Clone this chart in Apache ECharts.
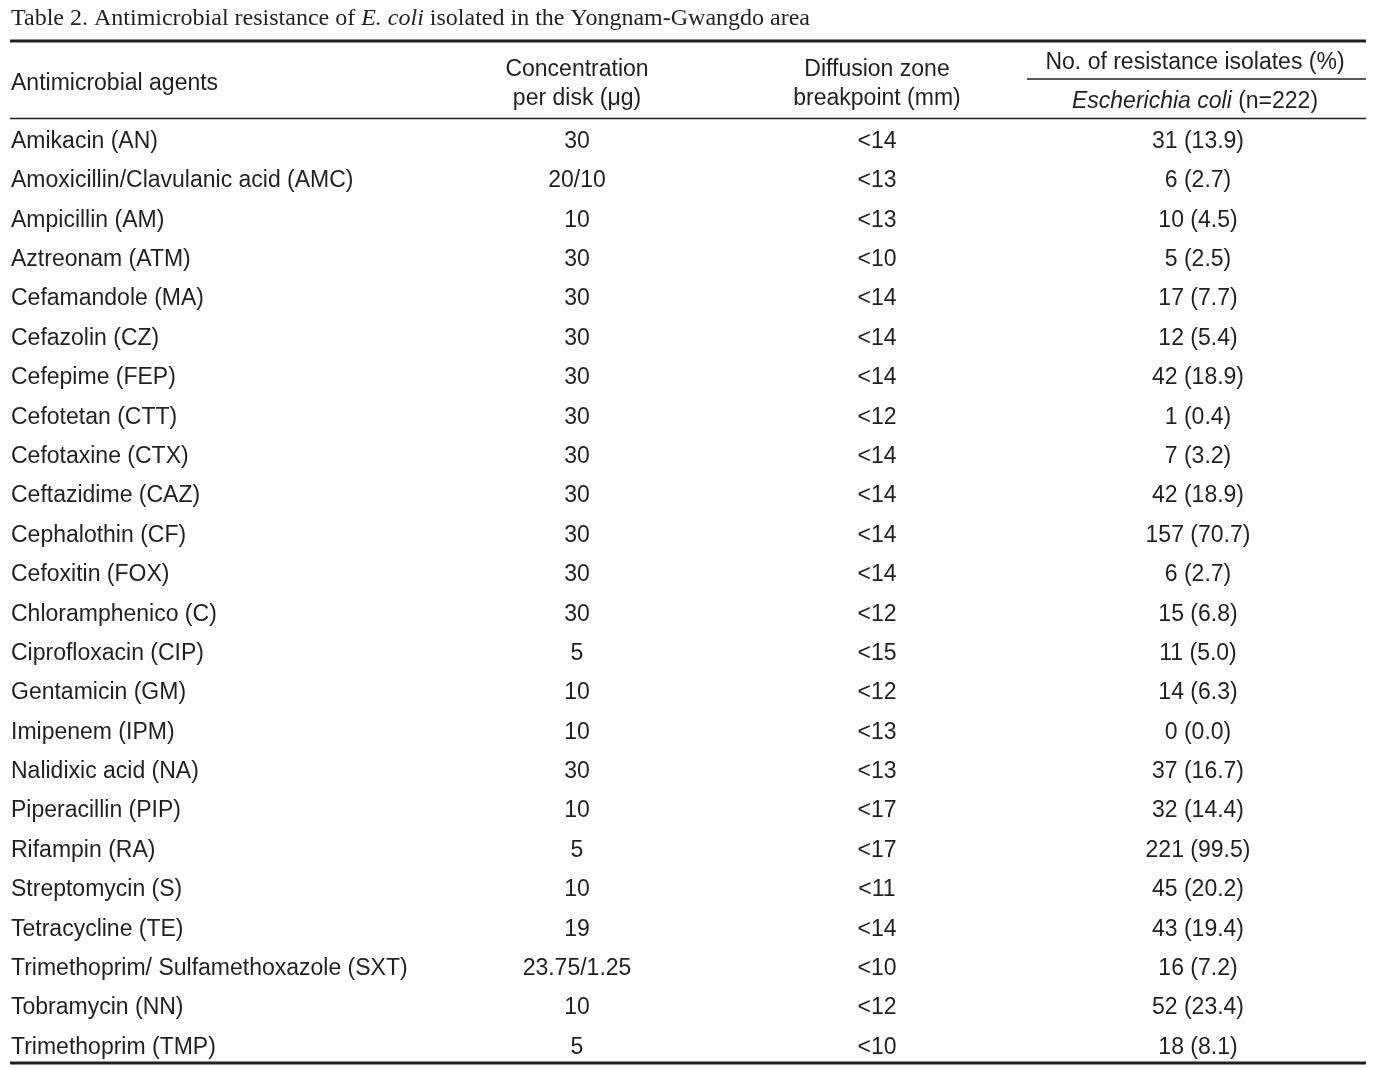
<!DOCTYPE html>
<html><head><meta charset="utf-8">
<script src="https://cdn.jsdelivr.net/npm/echarts@6/dist/echarts.min.js"></script>
<style>html,body{margin:0;padding:0;background:#fff}#c{width:1384px;height:1068px}</style>
</head><body><div id="c"></div>
<script>
const agents = ["Amikacin (AN)","Amoxicillin/Clavulanic acid (AMC)","Ampicillin (AM)","Aztreonam (ATM)","Cefamandole (MA)","Cefazolin (CZ)","Cefepime (FEP)","Cefotetan (CTT)","Cefotaxine (CTX)","Ceftazidime (CAZ)","Cephalothin (CF)","Cefoxitin (FOX)","Chloramphenico (C)","Ciprofloxacin (CIP)","Gentamicin (GM)","Imipenem (IPM)","Nalidixic acid (NA)","Piperacillin (PIP)","Rifampin (RA)","Streptomycin (S)","Tetracycline (TE)","Trimethoprim/ Sulfamethoxazole (SXT)","Tobramycin (NN)","Trimethoprim (TMP)"];
const concentration = ["30","20/10","10","30","30","30","30","30","30","30","30","30","30","5","10","10","30","10","5","10","19","23.75/1.25","10","5"];
const breakpoint = ["<14","<13","<13","<10","<14","<14","<14","<12","<14","<14","<14","<14","<12","<15","<12","<13","<13","<17","<17","<11","<14","<10","<12","<10"];
const resistCount = [31,6,10,5,17,12,42,1,7,42,157,6,15,11,14,0,37,32,221,45,43,16,52,18];
const resistPct = ["13.9","2.7","4.5","2.5","7.7","5.4","18.9","0.4","3.2","18.9","70.7","2.7","6.8","5.0","6.3","0.0","16.7","14.4","99.5","20.2","19.4","7.2","23.4","8.1"];

const W = 1384;
const colX = {agent: 11, conc: 577, zone: 877, res: 1198};
const SANS = '"Liberation Sans", Arial, sans-serif';
const SERIF = '"Liberation Serif", "Times New Roman", serif';
const FS = 23;
const ink = '#231f20';

const chart = echarts.init(document.getElementById('c'), null, {renderer: 'canvas'});
const rowH = (1046 - 140) / 23;
const hText = (x, y, s, al) => ({type: 'text', x: x, y: y, style: {text: s, font: FS + 'px ' + SANS, fill: ink, align: al, verticalAlign: 'middle'}});
const option = {
  animation: false,
  backgroundColor: '#fff',
  grid: {left: 0, right: 0, top: 141.5 - rowH / 2, height: rowH * 24},
  xAxis: {type: 'value', min: 0, max: W, show: false},
  yAxis: {type: 'category', data: agents, inverse: true, show: false},
  graphic: [
    {type: 'text', x: 11, y: 19, style: {rich: {
        n: {fontFamily: SERIF, fontSize: 24, fill: ink},
        i: {fontFamily: SERIF, fontSize: 24, fontStyle: 'italic', fill: ink}},
      text: '{n|Table 2. Antimicrobial resistance of }{i|E. coli}{n| isolated in the Yongnam-Gwangdo area}',
      align: 'left', verticalAlign: 'middle'}},
    {type: 'line', shape: {x1: 10, y1: 41, x2: 1366, y2: 41}, style: {stroke: ink, lineWidth: 3}},
    {type: 'line', shape: {x1: 1027, y1: 79, x2: 1366, y2: 79}, style: {stroke: ink, lineWidth: 1.3}},
    {type: 'line', shape: {x1: 10, y1: 118.5, x2: 1366, y2: 118.5}, style: {stroke: ink, lineWidth: 1.5}},
    {type: 'line', shape: {x1: 10, y1: 1063, x2: 1366, y2: 1063}, style: {stroke: ink, lineWidth: 3}},
    hText(11, 83.5, 'Antimicrobial agents', 'left'),
    hText(577, 69.5, 'Concentration', 'center'),
    hText(577, 98.5, 'per disk (\u03bcg)', 'center'),
    hText(877, 69.5, 'Diffusion zone', 'center'),
    hText(877, 98.5, 'breakpoint (mm)', 'center'),
    hText(1195, 63, 'No. of resistance isolates (%)', 'center'),
    {type: 'text', x: 1195, y: 102, style: {rich: {
        i: {fontFamily: SANS, fontSize: FS, fontStyle: 'italic', fill: ink},
        n: {fontFamily: SANS, fontSize: FS, fill: ink}},
      text: '{i|Escherichia coli}{n| (n=222)}', align: 'center', verticalAlign: 'middle'}}
  ],
  series: [{
    type: 'custom',
    data: agents.map((a, i) => [i]),
    encode: {y: 0},
    renderItem: function (params, api) {
      const i = api.value(0);
      const y = api.coord([0, i])[1];
      const cx = k => api.coord([colX[k], i])[0];
      const t = (x, s, al) => ({type: 'text', x: x, y: y, style: {text: s, font: FS + 'px ' + SANS, fill: ink, align: al, verticalAlign: 'middle'}});
      return {type: 'group', children: [
        t(cx('agent'), agents[i], 'left'),
        t(cx('conc'), concentration[i], 'center'),
        t(cx('zone'), breakpoint[i], 'center'),
        t(cx('res'), resistCount[i] + ' (' + resistPct[i] + ')', 'center')
      ]};
    }
  }]
};
chart.setOption(option);
</script>
</body></html>
